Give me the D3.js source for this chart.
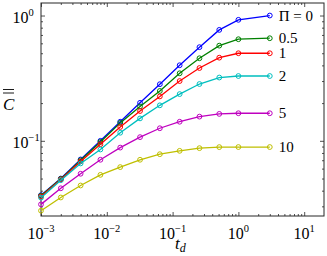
<!DOCTYPE html>
<html>
<head>
<style>
  body { margin: 0; background: #fff; }
  svg text { font-family: "Liberation Serif", "DejaVu Serif", serif !important; }
</style>
</head>
<body>
<svg width="327" height="256"></svg>
<script src="https://d3js.org/d3.v7.min.js"></script>
<script>
// dimensionless time samples
var td = [0.001, 0.002, 0.004, 0.008, 0.016, 0.032, 0.064, 0.128, 0.256, 0.512, 1, 3];

// C bar bar for each value of Pi
var c0   = [0.0368, 0.050, 0.071, 0.100, 0.142, 0.201, 0.283, 0.401, 0.559, 0.768, 0.924, 1.0];
var c05  = [0.0365, 0.0497, 0.070, 0.098, 0.139, 0.188, 0.250, 0.346, 0.456, 0.575, 0.647, 0.659];
var c1   = [0.0360, 0.0492, 0.0685, 0.094, 0.129, 0.173, 0.226, 0.300, 0.381, 0.461, 0.500, 0.500];
var c2   = [0.0352, 0.0485, 0.066, 0.0853, 0.116, 0.151, 0.192, 0.236, 0.284, 0.320, 0.329, 0.329];
var c5   = [0.0311, 0.0418, 0.0546, 0.0706, 0.0883, 0.107, 0.126, 0.142, 0.156, 0.164, 0.166, 0.166];
var c10  = [0.0277, 0.0353, 0.0440, 0.0535, 0.0617, 0.0706, 0.0782, 0.0832, 0.0874, 0.0891, 0.0892, 0.0892];

var piLabels = ["\u03A0 = 0", "0.5", "1", "2", "5", "10"];
var colors = ["#0000ff", "#008000", "#ff0000", "#00bfbf", "#bf00bf", "#bfbf00"];

var xMajor = [1e-3, 1e-2, 1e-1, 1e0, 1e1];
var xExp = ["\u22123", "\u22122", "\u22121", "0", "1"];
var yMajor = [1e-1, 1e0];
var yExp = ["\u22121", "0"];

var series = [c0, c05, c1, c2, c5, c10];

var serif = "'Liberation Serif', 'DejaVu Serif', serif";

var svg = d3.select("svg"),
    margin = {top: 3, left: 41},
    width = 283,
    height = 213,
    g = svg.append("g").attr("transform", "translate(" + margin.left + "," + margin.top + ")");

var x = d3.scaleLog().domain([1e-3, 20]).range([0, width]);
var y = d3.scaleLog().domain([Math.pow(10, -1.6), Math.pow(10, 0.1)]).range([height, 0]);

// minor ticks
function minors(dom) {
  var out = [];
  for (var e = -4; e <= 2; e++) {
    for (var k = 2; k <= 9; k++) {
      var v = k * Math.pow(10, e);
      if (v > dom[0] && v < dom[1]) out.push(v);
    }
  }
  return out;
}
var xMinor = minors(x.domain());
var yMinor = minors(y.domain());

var axisColor = "#262626";
function tickAxis(gen, vals, len) {
  return gen.tickValues(vals).tickSize(-len).tickSizeOuter(0).tickFormat("");
}
function styleAxis(sel) {
  sel.select(".domain").remove();
  sel.selectAll("line").attr("stroke", axisColor).attr("stroke-width", 0.8);
}

g.append("g").attr("transform", "translate(0," + height + ")").call(tickAxis(d3.axisBottom(x), xMajor, 4)).call(styleAxis);
g.append("g").attr("transform", "translate(0," + height + ")").call(tickAxis(d3.axisBottom(x), xMinor, 2)).call(styleAxis);
g.append("g").call(tickAxis(d3.axisTop(x), xMajor, 4)).call(styleAxis);
g.append("g").call(tickAxis(d3.axisTop(x), xMinor, 2)).call(styleAxis);
g.append("g").call(tickAxis(d3.axisLeft(y), yMajor, 4)).call(styleAxis);
g.append("g").call(tickAxis(d3.axisLeft(y), yMinor, 2)).call(styleAxis);
g.append("g").attr("transform", "translate(" + width + ",0)").call(tickAxis(d3.axisRight(y), yMajor, 4)).call(styleAxis);
g.append("g").attr("transform", "translate(" + width + ",0)").call(tickAxis(d3.axisRight(y), yMinor, 2)).call(styleAxis);

g.append("rect")
  .attr("width", width).attr("height", height)
  .attr("fill", "none").attr("stroke", axisColor).attr("stroke-width", 1);

// tick labels
xMajor.forEach(function(v, i) {
  var t = g.append("text")
    .attr("x", x(v)).attr("y", height + 23)
    .attr("text-anchor", "middle")
    .style("font-family", serif)
    .style("font-size", "16px");
  t.append("tspan").text("10");
  t.append("tspan").attr("dy", -7).style("font-size", "10.5px").text(xExp[i]);
});
yMajor.forEach(function(v, i) {
  var t = g.append("text")
    .attr("x", -28.5).attr("y", y(v) + 7)
    .attr("text-anchor", "start")
    .style("font-family", serif)
    .style("font-size", "16px");
  t.append("tspan").text("10");
  t.append("tspan").attr("dy", -7).style("font-size", "10.5px").text(yExp[i]);
});

// axis titles
var xl = svg.append("text").attr("x", 175).attr("y", 249)
  .style("font-family", serif).style("font-size", "17px").style("font-style", "italic");
xl.append("tspan").text("t");
xl.append("tspan").attr("dy", 3).style("font-size", "12px").text("d");

svg.append("text").attr("x", 3).attr("y", 110)
  .style("font-family", serif).style("font-size", "17px").style("font-style", "italic").text("C");
svg.append("line").attr("x1", 3).attr("x2", 14).attr("y1", 89.5).attr("y2", 89.5).attr("stroke", "#000").attr("stroke-width", 0.9);
svg.append("line").attr("x1", 3).attr("x2", 14).attr("y1", 93).attr("y2", 93).attr("stroke", "#000").attr("stroke-width", 0.9);

// curves
var line = d3.line()
  .x(function(d, i) { return x(td[i]); })
  .y(function(d) { return y(d); });

series.forEach(function(s, k) {
  var sg = g.append("g");
  sg.append("path")
    .attr("d", line(s))
    .attr("fill", "none")
    .attr("stroke", colors[k])
    .attr("stroke-width", 1.3);
  sg.selectAll("circle")
    .data(s)
    .enter().append("circle")
    .attr("cx", function(d, i) { return x(td[i]); })
    .attr("cy", function(d) { return y(d); })
    .attr("r", 2.4)
    .attr("fill", "none")
    .attr("stroke", colors[k])
    .attr("stroke-width", 1);
  g.append("text")
    .attr("x", x(td[td.length - 1]) + 9)
    .attr("y", y(s[s.length - 1]) + 5)
    .style("font-family", serif)
    .style("font-size", "15px")
    .text(piLabels[k]);
});
</script>
</body>
</html>
